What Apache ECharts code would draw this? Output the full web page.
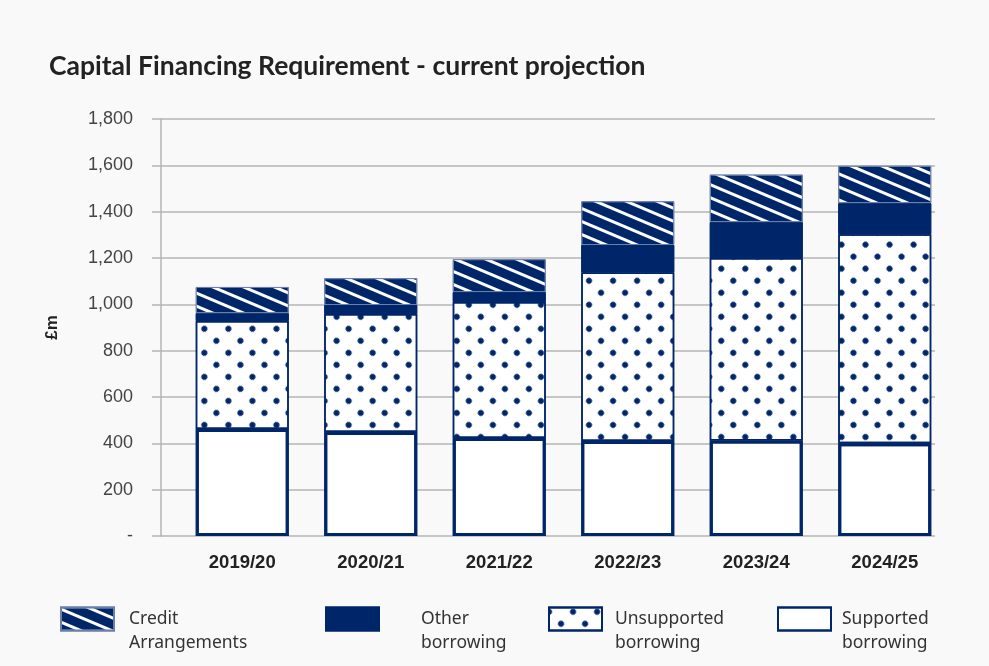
<!DOCTYPE html>
<html>
<head>
<meta charset="utf-8">
<script src="https://cdn.jsdelivr.net/npm/echarts@6/dist/echarts.min.js"></script>
<style>
  html, body { margin: 0; padding: 0; background: #f9f9f9; }
  #chart { width: 989px; height: 666px; }
</style>
</head>
<body>
<div id="chart"></div>
<script>
const years = ['2019/20', '2020/21', '2021/22', '2022/23', '2023/24', '2024/25']
const supported = [462, 449, 423, 410, 412, 400]
const unsupported = [466, 509, 587, 727, 788, 903]
const otherBorrowing = [34, 39, 43, 119, 155, 134]
const creditArrangements = [113, 116, 142, 189, 205, 161]
const yTicks = { min: 0, max: 1800, interval: 200 }

const navy = '#00266a'
const noDecal = { symbol: 'none' }

const chart = echarts.init(document.getElementById('chart'))

// one legend per item so each can sit where the original puts it
function legendFor(name, label, left, textGap) {
  return {
    data: [name],
    left: left,
    top: 583,
    padding: 0,
    icon: 'rect',
    itemWidth: 53,
    itemHeight: 23,
    selectedMode: false,
    formatter: () => '\n' + label,
    textStyle: {
      fontFamily: 'Noto Sans',
      fontSize: 17.5,
      color: '#333',
      lineHeight: 24,
      padding: [0, 0, 0, textGap],
    },
  }
}

const option = {
  backgroundColor: '#f9f9f9',
  aria: { enabled: true, decal: { show: true } },
  animation: false,
  title: {
    text: 'Capital Financing Requirement - current projection',
    left: 49,
    top: 53,
    padding: 0,
    textStyle: { fontFamily: 'Lato', fontWeight: 'bold', fontSize: 26.5, color: '#222' },
  },
  legend: [
    legendFor('Credit Arrangements', 'Credit\nArrangements', 60, 10),
    legendFor('Other borrowing', 'Other\nborrowing', 325, 37),
    legendFor('Unsupported borrowing', 'Unsupported\nborrowing', 548, 8),
    legendFor('Supported borrowing', 'Supported\nborrowing', 777, 6),
  ],
  grid: [
    // bars
    { left: 178, right: 40, top: 119, bottom: 130 },
    // axis frame and gridlines
    { left: 161, right: 54, top: 119, bottom: 130 },
  ],
  xAxis: [
    {
      type: 'category',
      gridIndex: 0,
      data: years,
      axisLine: { show: false },
      axisTick: { show: false },
      axisLabel: {
        margin: 17,
        fontFamily: 'Liberation Sans',
        fontWeight: 'bold',
        fontSize: 18.5,
        color: '#222',
      },
    },
    { type: 'value', gridIndex: 1, show: false, min: 0, max: 1 },
  ],
  yAxis: [
    { type: 'value', gridIndex: 0, show: false, ...yTicks },
    {
      type: 'value',
      gridIndex: 1,
      ...yTicks,
      name: '£m',
      nameLocation: 'middle',
      nameGap: 100,
      nameTextStyle: { fontFamily: 'Liberation Sans', fontWeight: 'bold', fontSize: 17, color: '#222' },
      axisLine: { show: true, lineStyle: { color: '#b4b4b4', width: 1.5 } },
      axisTick: { show: true, length: 9, lineStyle: { color: '#b4b4b4', width: 1.5 } },
      splitLine: { show: true, lineStyle: { color: '#b4b4b4', width: 1.5 } },
      axisLabel: {
        margin: 28,
        fontFamily: 'Liberation Sans',
        fontSize: 18,
        color: '#444',
        formatter: (v) => (v === 0 ? '-' : v.toLocaleString('en-GB')),
      },
    },
  ],
  series: [
    {
      name: 'Supported borrowing',
      type: 'bar',
      stack: 'cfr',
      barWidth: 93,
      data: supported,
      itemStyle: { color: '#fff', borderColor: navy, borderWidth: 3, decal: noDecal },
    },
    {
      name: 'Unsupported borrowing',
      type: 'bar',
      stack: 'cfr',
      data: unsupported,
      itemStyle: {
        color: '#fff',
        borderColor: navy,
        borderWidth: 1.5,
        decal: {
          symbol: 'circle',
          symbolSize: 1,
          color: navy,
          dashArrayX: [5.5, 11],
          dashArrayY: [5.5, 11],
          rotation: Math.PI / 4,
        },
      },
    },
    {
      name: 'Other borrowing',
      type: 'bar',
      stack: 'cfr',
      data: otherBorrowing,
      itemStyle: { color: navy, borderColor: navy, borderWidth: 1, decal: noDecal },
    },
    {
      name: 'Credit Arrangements',
      type: 'bar',
      stack: 'cfr',
      data: creditArrangements,
      itemStyle: {
        color: navy,
        borderColor: '#6b7fa8',
        borderWidth: 1,
        decal: {
          symbol: 'rect',
          symbolSize: 1,
          color: '#fff',
          dashArrayX: [1, 0],
          dashArrayY: [3, 9],
          rotation: 0.4,
        },
      },
    },
  ],
}

chart.setOption(option)
</script>
</body>
</html>
